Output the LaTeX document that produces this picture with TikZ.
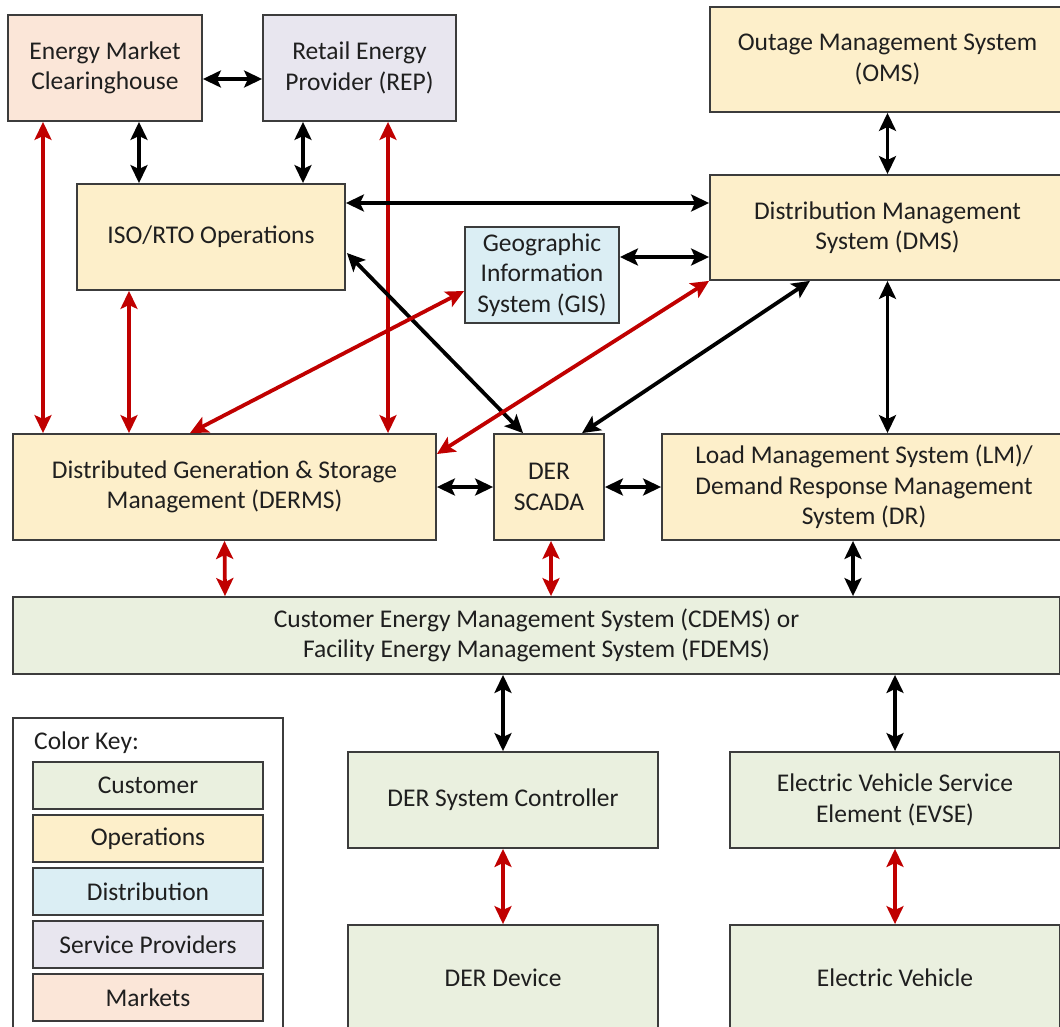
\documentclass[tikz,border=0pt]{standalone}
\usepackage{fontspec}
\setmainfont{Carlito}
\usetikzlibrary{arrows.meta,calc}

\definecolor{opsfill}{HTML}{FDEFCA}
\definecolor{mktfill}{HTML}{FBE6D8}
\definecolor{spfill}{HTML}{E8E6EF}
\definecolor{distfill}{HTML}{DBEEF4}
\definecolor{custfill}{HTML}{EAF0DF}
\definecolor{boxline}{HTML}{3C3C3C}
\definecolor{linkred}{HTML}{C00000}

\tikzset{
  box/.style={draw=boxline, line width=1.8pt, inner sep=0pt, align=center,
    font=\fontsize{25.5}{30.5}\selectfont, text=black!88},
  ops/.style={box, fill=opsfill},
  mkt/.style={box, fill=mktfill},
  sp/.style={box, fill=spfill},
  dist/.style={box, fill=distfill},
  cust/.style={box, fill=custfill},
  link/.style={line width=3.8pt, {Stealth[length=18pt,width=17pt,inset=4pt]}-{Stealth[length=18pt,width=17pt,inset=4pt]}},
  blk/.style={link, draw=black},
  rd/.style={link, draw=linkred},
}

\begin{document}
\begin{tikzpicture}[x=1pt, y=-1pt]
\useasboundingbox[fill=white] (0,0) rectangle (1060,1027);

% markets and service providers
\node[mkt, minimum width=194pt, minimum height=106pt] (emc) at (105,68) {Energy Market\\Clearinghouse};
\node[sp, minimum width=193pt, minimum height=106pt] (rep) at (359.5,68) {Retail Energy\\Provider (REP)};

% operations
\node[ops, minimum width=355pt, minimum height=105pt] (oms) at (887.5,59.5) {Outage Management System\\(OMS)};
\node[ops, minimum width=355pt, minimum height=105pt] (dms) at (887.5,227.5) {Distribution Management\\System (DMS)};
\node[ops, minimum width=268pt, minimum height=106pt] (iso) at (211,237) {ISO/RTO Operations};
\node[dist, minimum width=154pt, minimum height=96pt] (gis) at (542,275) {Geographic\\Information\\System (GIS)};
\node[ops, minimum width=423pt, minimum height=106pt] (derms) at (224.5,487) {Distributed Generation \& Storage\\Management (DERMS)};
\node[ops, minimum width=110pt, minimum height=106pt] (scada) at (549,487) {DER\\SCADA};
\node[ops, minimum width=404pt, minimum height=106pt] (lm) at (864,487) {Load Management System (LM)/\\Demand Response Management\\System (DR)};

% customer side
\node[cust, minimum width=1047pt, minimum height=77pt] (cdems) at (536.5,635.5) {Customer Energy Management System (CDEMS) or\\Facility Energy Management System (FDEMS)};
\node[cust, minimum width=310pt, minimum height=96pt] (dsc) at (503,800) {DER System Controller};
\node[cust, minimum width=330pt, minimum height=96pt] (evse) at (895,800) {Electric Vehicle Service\\Element (EVSE)};
\node[cust, minimum width=310pt, minimum height=106pt] (dev) at (503,978) {DER Device};
\node[cust, minimum width=330pt, minimum height=106pt] (ev) at (895,978) {Electric Vehicle};

% colour key
\node[draw=boxline, line width=1.8pt, fill=white, minimum width=270pt, minimum height=322pt] (key) at (148,879) {};
\node[anchor=west, font=\fontsize{25.5}{30.5}\selectfont, text=black!88, inner sep=0pt] (keytitle) at (34,743) {Color Key:};
\node[cust, minimum width=230pt, minimum height=47pt] (kc) at (148,785.5) {Customer};
\node[ops, minimum width=230pt, minimum height=47pt] (ko) at (148,838.5) {Operations};
\node[dist, minimum width=230pt, minimum height=47pt] (kd) at (148,891.5) {Distribution};
\node[sp, minimum width=230pt, minimum height=47pt] (ks) at (148,944.5) {Service Providers};
\node[mkt, minimum width=230pt, minimum height=47pt] (km) at (148,997.5) {Markets};

% upper links
\draw[blk] ($(emc.east)+(0,11)$) -- ($(rep.west)+(0,11)$);
\draw[blk] ($(emc.south)+(34,0)$) -- ($(iso.north)+(-72,0)$);
\draw[blk] ($(rep.south)+(-56.5,0)$) -- ($(iso.north)+(92,0)$);
\draw[rd] ($(emc.south)+(-62,0)$) -- ($(derms.north)+(-181.5,0)$);
\draw[rd] ($(rep.south)+(28.5,0)$) -- ($(derms.north)+(163.5,0)$);
\draw[rd] ($(iso.south)+(-82,0)$) -- ($(derms.north)+(-95.5,0)$);
\draw[blk] ($(iso.east)+(0,-34)$) -- ($(dms.west)+(0,-24.5)$);
\draw[blk] ($(gis.east)+(0,-18)$) -- ($(dms.west)+(0,29.5)$);
\draw[blk] (oms.south) -- (dms.north);

% diagonal links
\draw[blk] ($(iso.east)+(1,16)$) -- ($(scada.north)+(-26,0)$);
\draw[rd] ($(gis.west)+(0,16)$) -- ($(derms.north)+(-34.5,0)$);
\draw[rd] (dms.south west) -- ($(derms.east)+(0,-33)$);
\draw[blk] ($(dms.south)+(-77.5,0)$) -- ($(scada.north)+(33,0)$);
\draw[blk] (dms.south) -- ($(lm.north)+(23.5,0)$);

% middle row
\draw[blk] (derms.east) -- (scada.west);
\draw[blk] (scada.east) -- (lm.west);
\draw[rd] (derms.south) -- ($(cdems.north)+(-311.5,0)$);
\draw[rd] ($(scada.south)+(2,0)$) -- ($(cdems.north)+(14.5,0)$);
\draw[blk] ($(lm.south)+(-11,0)$) -- ($(cdems.north)+(316.5,0)$);

% customer links
\draw[blk] ($(cdems.south)+(-33.5,0)$) -- (dsc.north);
\draw[blk] ($(cdems.south)+(358.5,0)$) -- (evse.north);
\draw[rd] (dsc.south) -- (dev.north);
\draw[rd] (evse.south) -- (ev.north);
\end{tikzpicture}
\end{document}
